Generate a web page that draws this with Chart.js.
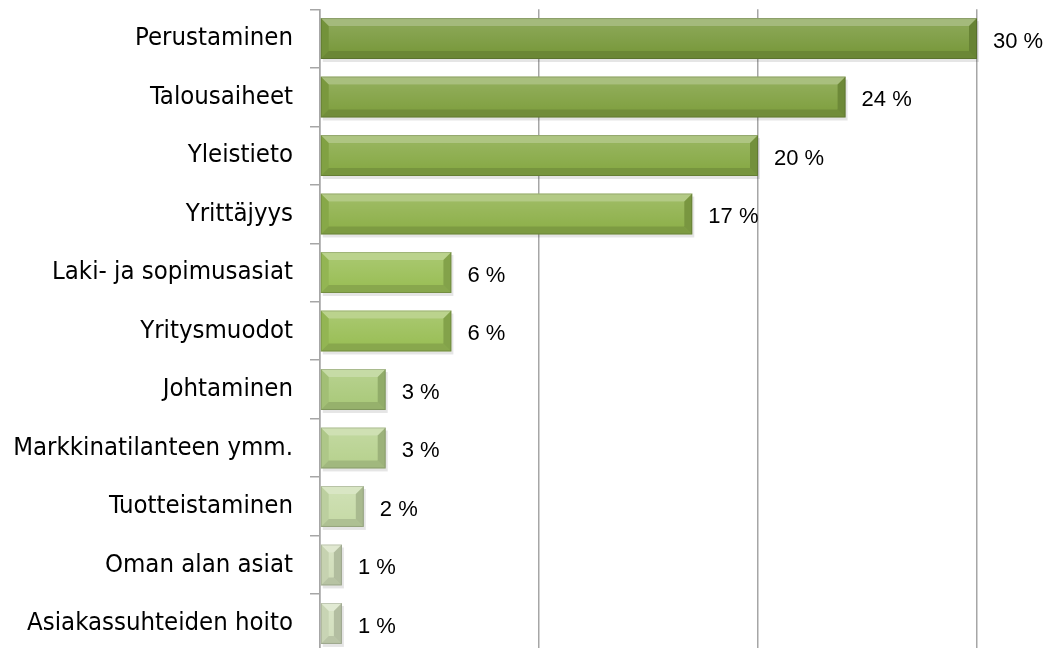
<!DOCTYPE html>
<html>
<head>
<meta charset="utf-8">
<script src="https://cdn.jsdelivr.net/npm/chart.js@4/dist/chart.umd.min.js"></script>
<style>
  html, body { margin: 0; padding: 0; background: #fff; overflow: hidden; }
  #wrap { width: 1053px; height: 708px; position: absolute; left: 0; top: -23px; }
</style>
</head>
<body>
<div id="wrap"><canvas id="chart"></canvas></div>
<script>
// aiheet ja osuudet (%)
const aiheet = [
  "Perustaminen", "Talousaiheet", "Yleistieto", "Yrittäjyys",
  "Laki- ja sopimusasiat", "Yritysmuodot", "Johtaminen",
  "Markkinatilanteen ymm.", "Tuotteistaminen", "Oman alan asiat",
  "Asiakassuhteiden hoito"
];
const osuudet = [30, 24, 20, 17, 6, 6, 3, 3, 2, 1, 1];
const varit = [
  "#7a9a3e", "#81a142", "#88aa47", "#8fb14c", "#9bbf58", "#9bbf58",
  "#abca7c", "#b8d290", "#c7dba8", "#d1deba", "#d3e0be"
];
const xTicks = [0, 10, 20, 30];

// varjo + viisteet palkkeihin
const bevelPlugin = {
  id: "bevel",
  beforeDatasetsDraw(chart) {
    const ctx = chart.ctx;
    const meta = chart.getDatasetMeta(0);
    ctx.save();
    meta.data.forEach(bar => {
      const l = Math.min(bar.base, bar.x), r = Math.max(bar.base, bar.x);
      const t = bar.y - bar.height / 2;
      ctx.fillStyle = "rgba(0,0,0,0.10)";
      ctx.fillRect(l + 2, t + 3, r - l, bar.height);
    });
    ctx.restore();
  },
  afterDatasetsDraw(chart) {
    const ctx = chart.ctx;
    const meta = chart.getDatasetMeta(0);
    ctx.save();
    meta.data.forEach((bar, i) => {
      const l = Math.min(bar.base, bar.x), r = Math.max(bar.base, bar.x);
      const t = bar.y - bar.height / 2, b = bar.y + bar.height / 2;
      const bv = Math.min(8, (r - l) / 2);
      const poly = (pts, fill) => {
        ctx.beginPath();
        ctx.moveTo(pts[0][0], pts[0][1]);
        pts.slice(1).forEach(p => ctx.lineTo(p[0], p[1]));
        ctx.closePath();
        ctx.fillStyle = fill;
        ctx.fill();
      };
      // face gradient
      const g = ctx.createLinearGradient(0, t + bv, 0, b - bv);
      g.addColorStop(0, "rgba(255,255,255,0.12)");
      g.addColorStop(1, "rgba(255,255,255,0)");
      ctx.fillStyle = g;
      ctx.fillRect(l + bv, t + bv, r - l - 2 * bv, b - t - 2 * bv);
      poly([[l, t], [r, t], [r - bv, t + bv], [l + bv, t + bv]], "rgba(255,255,255,0.32)");
      poly([[l, b], [r, b], [r - bv, b - bv], [l + bv, b - bv]], "rgba(0,0,0,0.12)");
      poly([[l, t], [l + bv, t + bv], [l + bv, b - bv], [l, b]], "rgba(0,0,0,0.05)");
      poly([[r, t], [r - bv, t + bv], [r - bv, b - bv], [r, b]], "rgba(0,0,0,0.15)");
      ctx.strokeStyle = "rgba(0,0,0,0.15)";
      ctx.lineWidth = 1;
      ctx.strokeRect(l + 0.5, t + 0.5, r - l - 1, b - t - 1);

      // arvotekstit
      ctx.fillStyle = "#000";
      ctx.font = "22px 'Liberation Sans', Arial, sans-serif";
      ctx.textAlign = "left";
      ctx.textBaseline = "middle";
      ctx.fillText(osuudet[i] + " %", r + 16, bar.y + 3);
    });
    ctx.restore();
  }
};

new Chart(document.getElementById("chart"), {
  type: "bar",
  data: {
    labels: aiheet,
    datasets: [{
      data: osuudet,
      backgroundColor: varit,
      borderWidth: 0,
      categoryPercentage: 1,
      barPercentage: 0.7
    }]
  },
  options: {
    indexAxis: "y",
    responsive: true,
    maintainAspectRatio: false,
    animation: false,
    layout: { padding: { top: 10, right: 76, bottom: 10, left: 0 } },
    plugins: { legend: { display: false }, tooltip: { enabled: false } },
    scales: {
      x: {
        min: 0, max: 30,
        afterBuildTicks: s => { s.ticks = xTicks.map(v => ({ value: v })); },
        ticks: { display: false },
        grid: { color: "#a6a6a6", lineWidth: 1.5, drawTicks: false },
        border: { display: false }
      },
      y: {
        afterFit: s => { s.width = 320; },
        ticks: {
          color: "#000",
          padding: 17,
          font: { family: "'DejaVu Sans Condensed', 'DejaVu Sans', sans-serif", size: 25.5 }
        },
        grid: { drawOnChartArea: false, tickLength: 10, color: "#a6a6a6", lineWidth: 1.5 },
        border: { color: "#a6a6a6", width: 1.5 }
      }
    }
  },
  plugins: [bevelPlugin]
});
</script>
</body>
</html>
